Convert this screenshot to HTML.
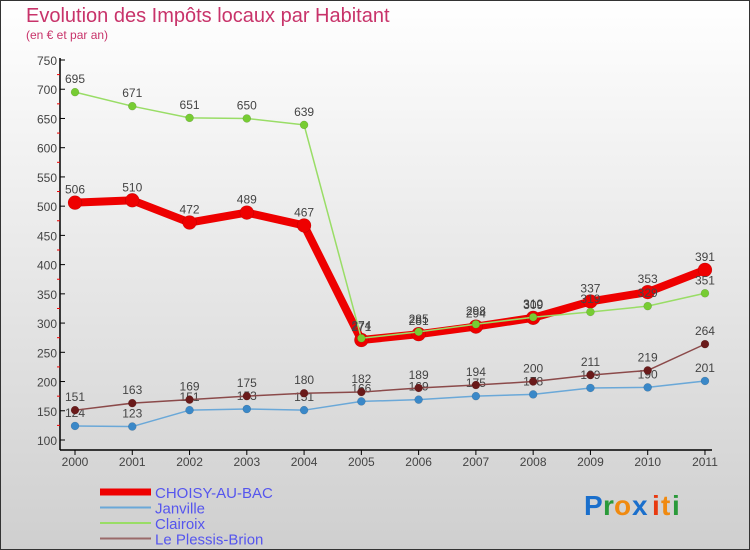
<!DOCTYPE html>
<html><head><meta charset="utf-8">
<style>
html,body{margin:0;padding:0;width:750px;height:550px;overflow:hidden}
svg{display:block;font-family:"Liberation Sans",sans-serif}
</style></head>
<body>
<svg id="chart" width="750" height="550" viewBox="0 0 750 550">
<defs>
<linearGradient id="bg" x1="0" y1="0" x2="0" y2="1">
<stop offset="0" stop-color="#ffffff"/><stop offset="1" stop-color="#cfcfcf"/>
</linearGradient>
</defs>
<rect x="0.5" y="0.5" width="749" height="549" fill="url(#bg)" stroke="#333"/>
<text x="26" y="22" font-size="20" fill="#c8336a">Evolution des Impôts locaux par Habitant</text>
<text x="26" y="39" font-size="12" fill="#c8336a">(en € et par an)</text>
<g id="axes"></g>
<g id="series"></g>
<g id="legend"></g>
<g font-size="28" font-weight="bold">
<text x="584" y="515" fill="#1a6fcc">P</text><text x="603" y="515" fill="#2a9a3a">r</text><text x="614" y="515" fill="#f08a10">o</text><text x="632" y="515" fill="#1a6fcc">x</text><text x="652" y="515" fill="#e83a10">i</text><text x="661" y="515" fill="#f08a10">t</text><text x="672" y="515" fill="#2a9a3a">i</text>
</g>
</svg>
<script>
const years = ["2000","2001","2002","2003","2004","2005","2006","2007","2008","2009","2010","2011"];
const choisy = [506,510,472,489,467,271,281,294,309,337,353,391];
const janville = [124,123,151,153,151,166,169,175,178,189,190,201];
const clairoix = [695,671,651,650,639,274,285,298,310,319,329,351];
const plessis = [151,163,169,175,180,182,189,194,200,211,219,264];
const yTicks = [100,150,200,250,300,350,400,450,500,550,600,650,700,750];

const NS="http://www.w3.org/2000/svg";
function x(i){return 75+i*57.27;}
function y(v){return 440-(v-100)*(380/650);}
function mk(tag,attrs,parent){const e=document.createElementNS(NS,tag);for(const k in attrs)e.setAttribute(k,attrs[k]);parent.appendChild(e);return e;}
const axes=document.getElementById('axes');
const yAxis=mk('line',{x1:60,y1:58,x2:60,y2:450,stroke:'#000','stroke-width':1.5},axes);


const xAxis=mk('line',{x1:60,y1:450,x2:712,y2:450,stroke:'#000','stroke-width':1.5},axes);


yTicks.forEach((v,i)=>{
  mk('line',{x1:60,y1:y(v),x2:65,y2:y(v),stroke:'#000'},axes);
  const t=mk('text',{x:57,y:y(v)+5,'text-anchor':'end','font-size':12,fill:'#444'},axes);
  t.textContent=v;
  
  
  if(i<yTicks.length-1) mk('line',{x1:57,y1:y(v+25),x2:60,y2:y(v+25),stroke:'#e00'},axes);
});
years.forEach((yr,i)=>{
  mk('line',{x1:x(i),y1:450,x2:x(i),y2:455,stroke:'#000'},axes);
  const t=mk('text',{x:x(i),y:466,'text-anchor':'middle','font-size':12,fill:'#444'},axes);
  t.textContent=yr;
  
  
});
const ser=document.getElementById('series');
function draw(name,data,color,lw,r,dot){
  const g=mk('g',{},ser);
  
  
  const pts=data.map((v,i)=>x(i)+','+y(v)).join(' ');
  mk('polyline',{points:pts,fill:'none',stroke:color,'stroke-width':lw,'stroke-linejoin':'round'},g);
  data.forEach((v,i)=>{
    const c=mk('circle',{cx:x(i),cy:y(v),r:r,fill:dot,stroke:'rgba(0,0,0,0.2)','stroke-width':0.5},g);
    
    
    const t=mk('text',{x:x(i),y:y(v)-9,'text-anchor':'middle','font-size':12,fill:'#444'},g);
    t.textContent=v;
    
    
  });
}
draw('janville',janville,'#6aa8d8',1.5,4,'#3a88c8');
draw('plessis',plessis,'#8b4a4a',1.5,4,'#6a1a1a');
draw('choisy',choisy,'#ee0000',8,7,'#ee0000');
draw('clairoix',clairoix,'#99dd66',1.5,4,'#77cc33');
const leg=document.getElementById('legend');
const items=[['CHOISY-AU-BAC','#ee0000',7],['Janville','#6aa8d8',2],['Clairoix','#99dd66',2],['Le Plessis-Brion','#9a6a6a',2]];
items.forEach((it,i)=>{
  const yy=492+i*15.5;
  const g=mk('g',{},leg);
  
  
  mk('line',{x1:100,y1:yy,x2:151,y2:yy,stroke:it[1],'stroke-width':it[2]},g);
  const t=mk('text',{x:155,y:yy+6,'font-size':15,fill:'#5555ee'},g);
  t.textContent=it[0];
});
</script>
</body></html>
